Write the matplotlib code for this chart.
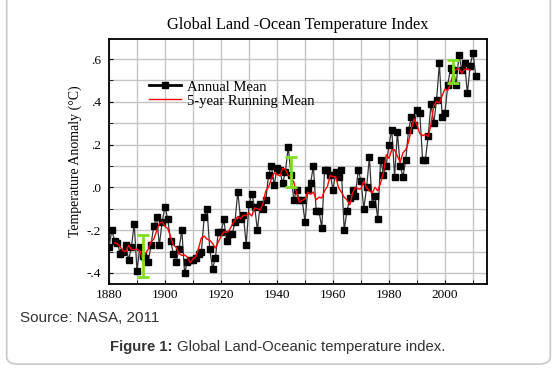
import numpy as np
import matplotlib
matplotlib.use("Agg")
import matplotlib.pyplot as plt
from matplotlib.lines import Line2D
from matplotlib.patches import FancyBboxPatch
from matplotlib.ticker import MultipleLocator

plt.rcParams['font.family'] = ['Liberation Serif', 'DejaVu Serif']

# annual mean anomaly, 1880-2011
years = list(range(1880, 2012))
annual_mean = [
    -0.28, -0.20, -0.25, -0.26, -0.31, -0.30, -0.27, -0.34, -0.28, -0.17,  # 1880s
    -0.39, -0.28, -0.32, -0.33, -0.35, -0.27, -0.18, -0.14, -0.27, -0.16,  # 1890s
    -0.09, -0.15, -0.25, -0.31, -0.35, -0.29, -0.20, -0.40, -0.35, -0.34,  # 1900s
    -0.34, -0.33, -0.31, -0.30, -0.14, -0.10, -0.29, -0.38, -0.33, -0.21,  # 1910s
    -0.21, -0.15, -0.25, -0.22, -0.22, -0.16, -0.02, -0.15, -0.13, -0.27,  # 1920s
    -0.08, -0.03, -0.09, -0.20, -0.08, -0.10, -0.06, 0.06, 0.10, 0.01,     # 1930s
    0.09, 0.08, 0.02, 0.07, 0.19, 0.06, -0.06, -0.01, -0.06, -0.06,        # 1940s
    -0.16, -0.01, 0.02, 0.10, -0.11, -0.11, -0.19, 0.08, 0.08, 0.06,       # 1950s
    -0.01, 0.07, 0.05, 0.08, -0.20, -0.11, -0.05, -0.01, -0.04, 0.08,      # 1960s
    0.03, -0.10, 0.00, 0.14, -0.08, -0.04, -0.15, 0.13, 0.06, 0.10,        # 1970s
    0.20, 0.27, 0.05, 0.26, 0.10, 0.05, 0.13, 0.27, 0.33, 0.29,            # 1980s
    0.36, 0.35, 0.13, 0.13, 0.24, 0.39, 0.30, 0.41, 0.58, 0.33,            # 1990s
    0.35, 0.48, 0.56, 0.55, 0.48, 0.62, 0.55, 0.58, 0.44, 0.57,            # 2000s
    0.63, 0.52,
]

# 5-year running mean, 1882-2009
run_years = list(range(1882, 2010))
running_mean = [
    -0.260, -0.264, -0.278, -0.296, -0.300, -0.272, -0.290, -0.292,
    -0.288, -0.298, -0.334, -0.310, -0.290, -0.254, -0.242, -0.204, -0.168, -0.162,
    -0.184, -0.192, -0.230, -0.270, -0.280, -0.310, -0.318, -0.316, -0.326, -0.352,
    -0.334, -0.324, -0.284, -0.236, -0.228, -0.242, -0.248, -0.262, -0.284, -0.256,
    -0.230, -0.208, -0.210, -0.200, -0.174, -0.154, -0.136, -0.146, -0.130, -0.132,
    -0.120, -0.134, -0.096, -0.100, -0.106, -0.076, -0.016, 0.002, 0.040, 0.068,
    0.060, 0.054, 0.090, 0.084, 0.056, 0.050, 0.024, -0.026, -0.070, -0.060,
    -0.054, -0.022, -0.032, -0.022, -0.058, -0.046, -0.050, -0.016, 0.004, 0.056,
    0.050, 0.050, -0.002, -0.022, -0.046, -0.058, -0.082, -0.026, 0.002, -0.008,
    -0.006, 0.030, -0.002, -0.016, -0.026, 0.000, -0.016, 0.020, 0.068, 0.152,
    0.136, 0.176, 0.176, 0.146, 0.118, 0.162, 0.176, 0.214, 0.276, 0.320,
    0.292, 0.252, 0.242, 0.248, 0.238, 0.294, 0.384, 0.402, 0.394, 0.430,
    0.460, 0.454, 0.484, 0.538, 0.552, 0.556, 0.534, 0.552, 0.554, 0.548,
]

# uncertainty bars
err_years = [1892, 1945, 2003]
err_centre = [-0.32, 0.073, 0.543]
err_half = [0.097, 0.071, 0.053]

xtick_vals = [1880, 1900, 1920, 1940, 1960, 1980, 2000]
ytick_vals = [-0.4, -0.2, 0.0, 0.2, 0.4, 0.6]
ytick_labels = ['-.4', '-.2', '.0', '.2', '.4', '.6']

fig = plt.figure(figsize=(5.57, 3.70), dpi=100)
fig.patch.set_facecolor('white')

# rounded frame round the whole figure
frame = FancyBboxPatch((0.012, 0.016), 0.976, 1.2, boxstyle="round,pad=0,rounding_size=0.02",
                       transform=fig.transFigure, facecolor='none', edgecolor='#c8c8c8',
                       linewidth=1.2, zorder=0)
fig.patches.append(frame)

ax = fig.add_axes([0.1957, 0.2324, 0.6786, 0.6622])

ax.plot(years, annual_mean, color='#333333', lw=0.9, marker='s', ms=4.3,
        mfc='black', mec='black', zorder=3)
ax.plot(run_years, running_mean, color='red', lw=1.0, zorder=4)
ax.errorbar(err_years, err_centre, yerr=err_half, fmt='none', ecolor='#80e020',
            elinewidth=2, capsize=4.5, capthick=2, zorder=5)

ax.set_xlim(1880, 2015)
ax.set_ylim(-0.452, 0.694)
ax.set_xticks(xtick_vals)
ax.xaxis.set_minor_locator(MultipleLocator(10))
ax.set_yticks(ytick_vals)
ax.set_yticklabels(ytick_labels)
ax.yaxis.set_minor_locator(MultipleLocator(0.1))
ax.grid(which='both', color='#c4c4c4', lw=1.0, zorder=0)
ax.set_axisbelow(True)
ax.tick_params(which='both', direction='in', length=3, labelsize=9.5, colors='black')
ax.tick_params(axis='y', pad=6)
for sp in ax.spines.values():
    sp.set_linewidth(1.3)

ax.set_ylabel('Temperature Anomaly (°C)', fontsize=10, labelpad=3)
ax.set_title('Global Land -Ocean Temperature Index', fontsize=11.8, pad=7)

handles = [Line2D([], [], color='black', lw=2, marker='s', ms=4.3),
           Line2D([], [], color='red', lw=1.0)]
ax.legend(handles, ['Annual Mean', '5-year Running Mean'], loc='upper left',
          bbox_to_anchor=(0.09, 0.855), frameon=False, fontsize=10.5,
          handlelength=2.2, handletextpad=0.4, labelspacing=0.05, borderaxespad=0)

fig.text(0.036, 0.14, 'Source: NASA, 2011', family='Liberation Sans', fontsize=11,
         color='#333333', va='center')
fig.text(0.197, 0.062, 'Figure 1:', family='Liberation Sans', fontsize=10.7,
         weight='bold', color='#333333', va='center', ha='left')
fig.text(0.318, 0.062, 'Global Land-Oceanic temperature index.', family='Liberation Sans',
         fontsize=10.7, color='#333333', va='center', ha='left')

fig.savefig('out.png', dpi=100)
